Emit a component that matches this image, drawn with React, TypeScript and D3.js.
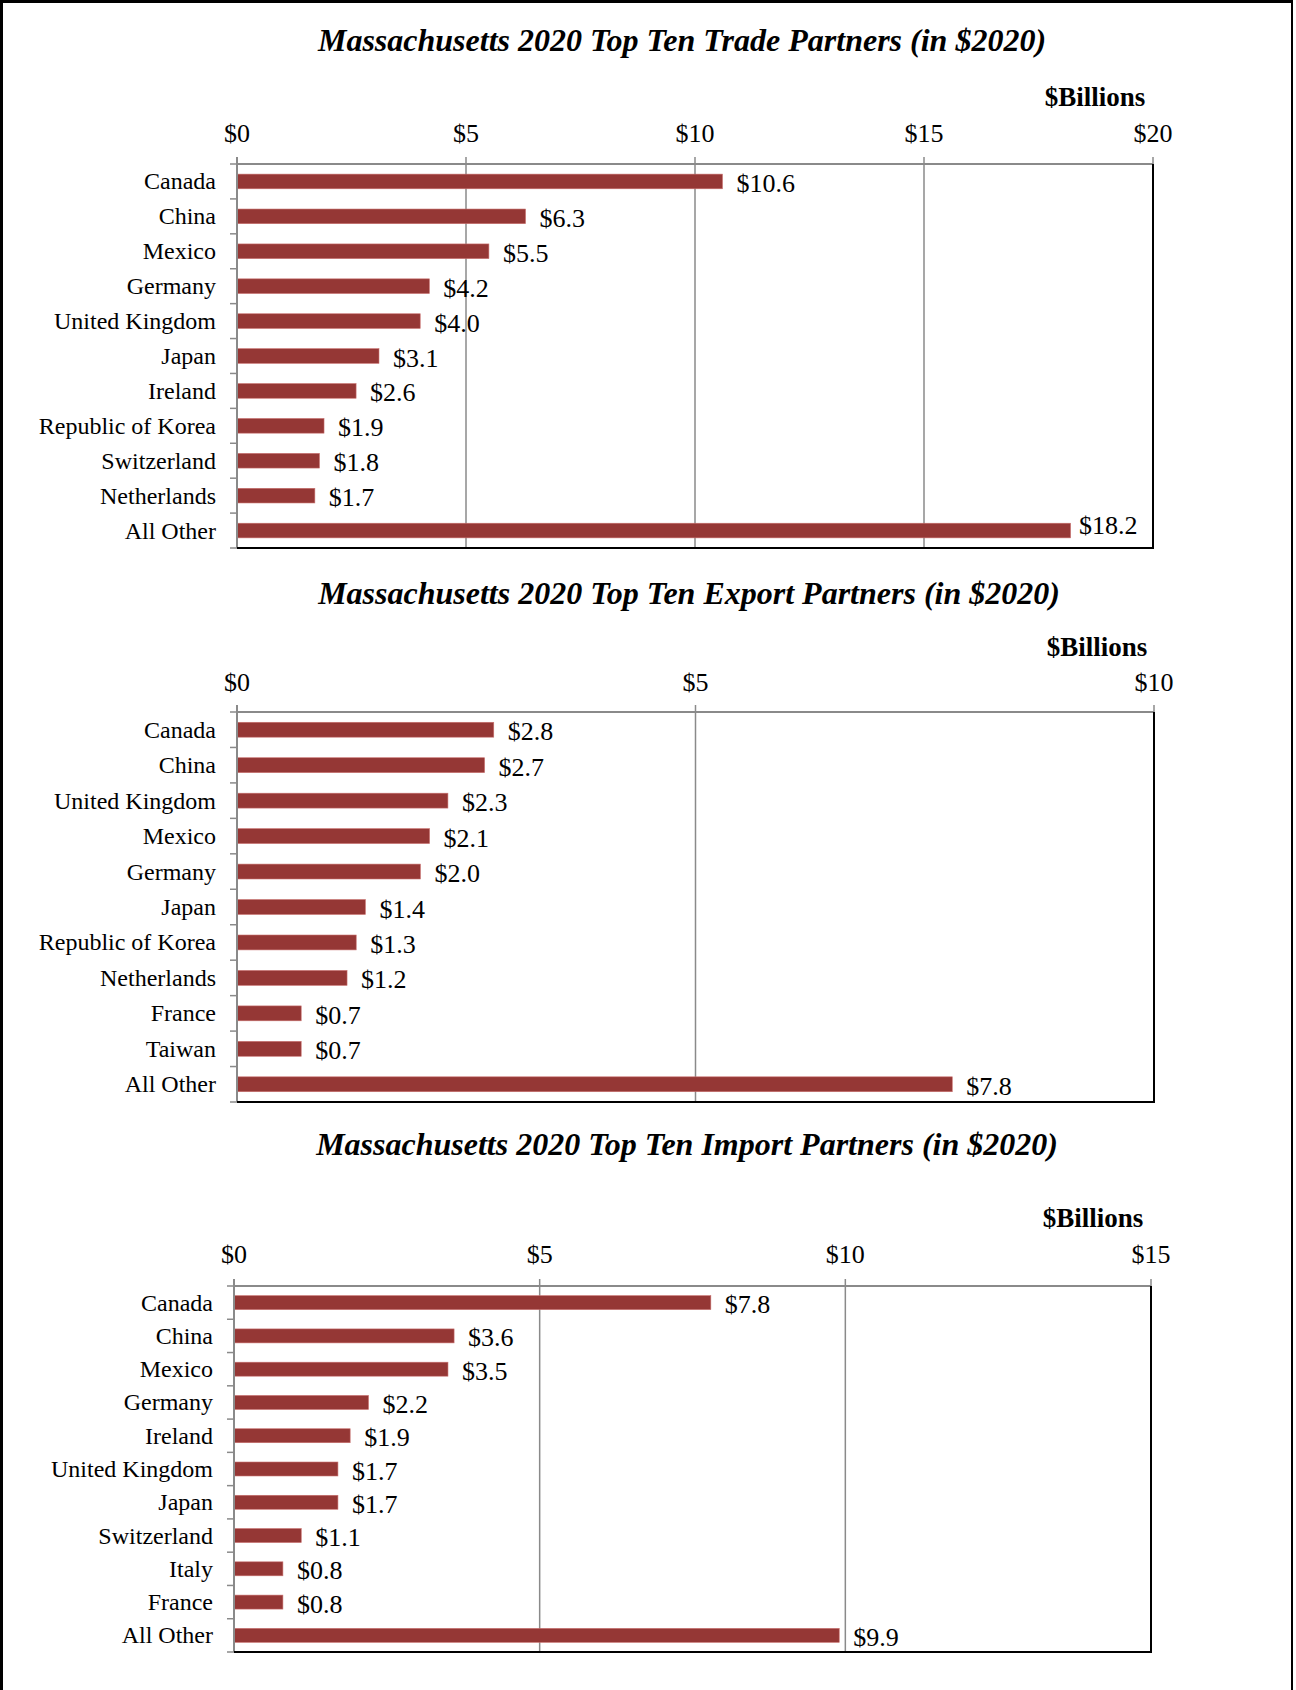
import React from 'react';
import * as d3 from 'd3';

// Trade partners
const tradeCats = ['Canada', 'China', 'Mexico', 'Germany', 'United Kingdom', 'Japan', 'Ireland', 'Republic of Korea', 'Switzerland', 'Netherlands', 'All Other'];
const tradeVals = [10.6, 6.3, 5.5, 4.2, 4.0, 3.1, 2.6, 1.9, 1.8, 1.7, 18.2];
const tradeTicks = [0, 5, 10, 15, 20];

// Export partners
const exportCats = ['Canada', 'China', 'United Kingdom', 'Mexico', 'Germany', 'Japan', 'Republic of Korea', 'Netherlands', 'France', 'Taiwan', 'All Other'];
const exportVals = [2.8, 2.7, 2.3, 2.1, 2.0, 1.4, 1.3, 1.2, 0.7, 0.7, 7.8];
const exportTicks = [0, 5, 10];

// Import partners
const importCats = ['Canada', 'China', 'Mexico', 'Germany', 'Ireland', 'United Kingdom', 'Japan', 'Switzerland', 'Italy', 'France', 'All Other'];
const importVals = [7.8, 3.6, 3.5, 2.2, 1.9, 1.7, 1.7, 1.1, 0.8, 0.8, 9.9];
const importTicks = [0, 5, 10, 15];

const FONT = '"Liberation Serif", "Times New Roman", serif';
const BAR = '#953735';
const GRID = '#8a8a8a';

interface PanelProps {
  title: string;
  titleX: number;
  titleY: number;
  unitX: number;
  unitY: number;
  tickY: number;
  top: number;
  bottom: number;
  left: number;
  right: number;
  cats: string[];
  vals: number[];
  ticks: number[];
}

function Panel(p: PanelProps) {
  const x = d3.scaleLinear().domain([0, p.ticks[p.ticks.length - 1]]).range([p.left, p.right]);
  const y = d3.scaleBand<string>().domain(p.cats).range([p.top, p.bottom]).paddingInner(0.58).paddingOuter(0.29);
  const band = (p.bottom - p.top) / p.cats.length;
  const bounds = d3.range(p.cats.length + 1).map(i => p.top + i * band);

  return (
    <g fontFamily={FONT}>
      <text x={p.titleX} y={p.titleY} textAnchor="middle" dominantBaseline="central"
        fontSize={32} fontWeight="bold" fontStyle="italic">{p.title}</text>
      <text x={p.unitX} y={p.unitY} textAnchor="middle" dominantBaseline="central"
        fontSize={27} fontWeight="bold">$Billions</text>

      {/* gridlines */}
      {p.ticks.slice(1, -1).map(t => (
        <line key={'g' + t} x1={x(t)} x2={x(t)} y1={p.top} y2={p.bottom} stroke={GRID} strokeWidth={1.5} />
      ))}

      {/* bars */}
      {p.cats.map((c, i) => (
        <rect key={c} x={x(0)} y={y(c)} width={x(p.vals[i]) - x(0)} height={y.bandwidth()}
          fill={BAR} stroke="#c9706e" strokeWidth={0.6} />
      ))}

      {/* value labels */}
      {p.cats.map((c, i) => {
        const raw = x(p.vals[i]) + 14;
        const clamped = raw > p.right - 74;
        const lx = clamped ? p.right - 74 : raw;
        const ly = (y(c) as number) + y.bandwidth() / 2 + (clamped ? -5 : 2);
        return (
          <text key={'v' + c} x={lx} y={ly} dominantBaseline="central" fontSize={26}>
            {'$' + p.vals[i].toFixed(1)}
          </text>
        );
      })}

      {/* top axis */}
      <line x1={p.left} x2={p.right} y1={p.top} y2={p.top} stroke={GRID} strokeWidth={2} />
      {p.ticks.map(t => (
        <g key={'t' + t}>
          <line x1={x(t)} x2={x(t)} y1={p.top - 7} y2={p.top} stroke={GRID} strokeWidth={1.5} />
          <text x={x(t)} y={p.tickY} textAnchor="middle" dominantBaseline="central" fontSize={26}>{'$' + t}</text>
        </g>
      ))}

      {/* left axis */}
      <line x1={p.left} x2={p.left} y1={p.top - 7} y2={p.bottom} stroke={GRID} strokeWidth={2} />
      {bounds.map((b, i) => (
        <line key={'b' + i} x1={p.left - 7} x2={p.left} y1={b} y2={b} stroke={GRID} strokeWidth={1.5} />
      ))}
      {p.cats.map(c => (
        <text key={'c' + c} x={p.left - 21} y={(y(c) as number) + y.bandwidth() / 2} textAnchor="end"
          dominantBaseline="central" fontSize={24}>{c}</text>
      ))}

      {/* right and bottom frame */}
      <line x1={p.right} x2={p.right} y1={p.top} y2={p.bottom + 1} stroke="#000" strokeWidth={2} />
      <line x1={p.left} x2={p.right + 1} y1={p.bottom} y2={p.bottom} stroke="#000" strokeWidth={2} />
    </g>
  );
}

export default function App() {
  const W = 1296;
  const H = 1690;
  return (
    <div style={{ position: 'absolute', left: 0, top: 0 }}>
      <svg width={W} height={H} style={{ display: 'block', background: '#fff' }}>
        <rect x={0} y={0} width={W} height={H} fill="#fff" />
        {/* outer frame */}
        <line x1={1.5} x2={1.5} y1={0} y2={H} stroke="#000" strokeWidth={3} />
        <line x1={0} x2={1293} y1={1.5} y2={1.5} stroke="#000" strokeWidth={3} />
        <line x1={1292} x2={1292} y1={0} y2={H} stroke="#000" strokeWidth={2} />

        <Panel title="Massachusetts 2020 Top Ten Trade Partners (in $2020)" titleX={682} titleY={40}
          unitX={1095} unitY={97} tickY={133} top={164} bottom={548} left={237} right={1153}
          cats={tradeCats} vals={tradeVals} ticks={tradeTicks} />
        <Panel title="Massachusetts 2020 Top Ten Export Partners (in $2020)" titleX={689} titleY={593}
          unitX={1097} unitY={647} tickY={682} top={712} bottom={1102} left={237} right={1154}
          cats={exportCats} vals={exportVals} ticks={exportTicks} />
        <Panel title="Massachusetts 2020 Top Ten Import Partners (in $2020)" titleX={687} titleY={1144}
          unitX={1093} unitY={1218} tickY={1254} top={1286} bottom={1652} left={234} right={1151}
          cats={importCats} vals={importVals} ticks={importTicks} />
      </svg>
    </div>
  );
}
